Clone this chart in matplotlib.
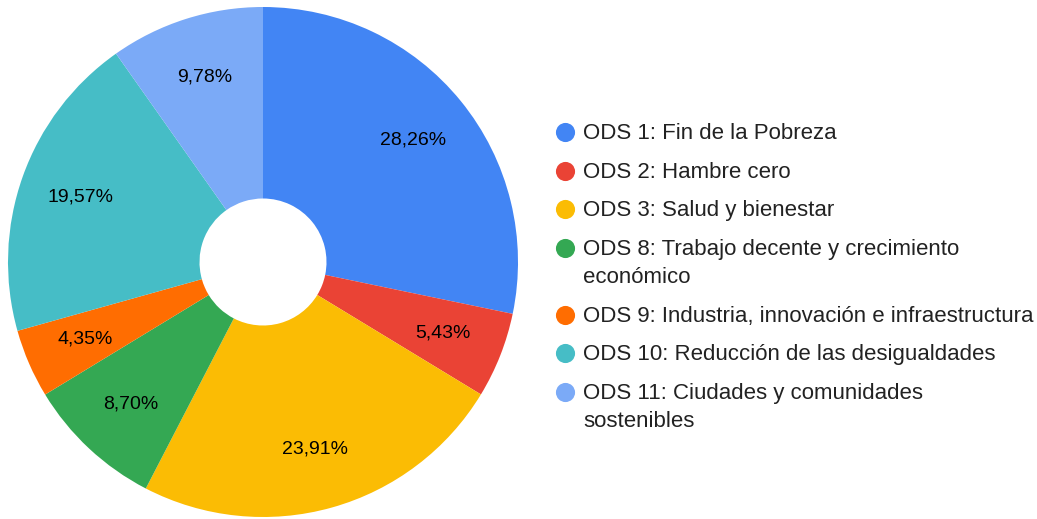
import matplotlib
import matplotlib.pyplot as plt

matplotlib.rcParams['font.family'] = ['Liberation Sans', 'DejaVu Sans']

labels = [
    ['ODS 1: Fin de la Pobreza'],
    ['ODS 2: Hambre cero'],
    ['ODS 3: Salud y bienestar'],
    ['ODS 8: Trabajo decente y crecimiento', 'económico'],
    ['ODS 9: Industria, innovación e infraestructura'],
    ['ODS 10: Reducción de las desigualdades'],
    ['ODS 11: Ciudades y comunidades', 'sostenibles'],
]
values = [28.26, 5.43, 23.91, 8.70, 4.35, 19.57, 9.78]
colors = ['#4285F4', '#EA4335', '#FBBC04', '#34A853', '#FF6D01', '#46BDC6', '#7BAAF7']

W, H = 1037, 519
fig = plt.figure(figsize=(W / 100, H / 100), dpi=100)

# pie axes: centre (263, 262) px, radius 255 px
cx, cy, R = 263, 262, 255
ax = fig.add_axes([(cx - R) / W, (H - cy - R) / H, 2 * R / W, 2 * R / H])
wedges, texts, autotexts = ax.pie(
    values, colors=colors, startangle=90, counterclock=False,
    radius=1.0, autopct=lambda p: f'{p:.2f}%'.replace('.', ','),
    pctdistance=0.76, wedgeprops=dict(width=1 - 63.5 / 255, linewidth=0),
    textprops=dict(fontsize=14, color='#000000'))
ax.set_xlim(-1, 1)
ax.set_ylim(-1, 1)
ax.set_aspect('equal')

# legend drawn in pixel space
lg = fig.add_axes([0, 0, 1, 1])
lg.set_xlim(0, W)
lg.set_ylim(H, 0)
lg.axis('off')
y = 132
for lab, col in zip(labels, colors):
    lg.scatter([565], [y], s=190, color=col, linewidths=0)
    for i, line in enumerate(lab):
        lg.text(583, y + 1.5 + i * 28, line, fontsize=16, color='#222222',
                va='center', ha='left')
    y += 38.7 + 28 * (len(lab) - 1)

fig.savefig('out.png', dpi=100)
